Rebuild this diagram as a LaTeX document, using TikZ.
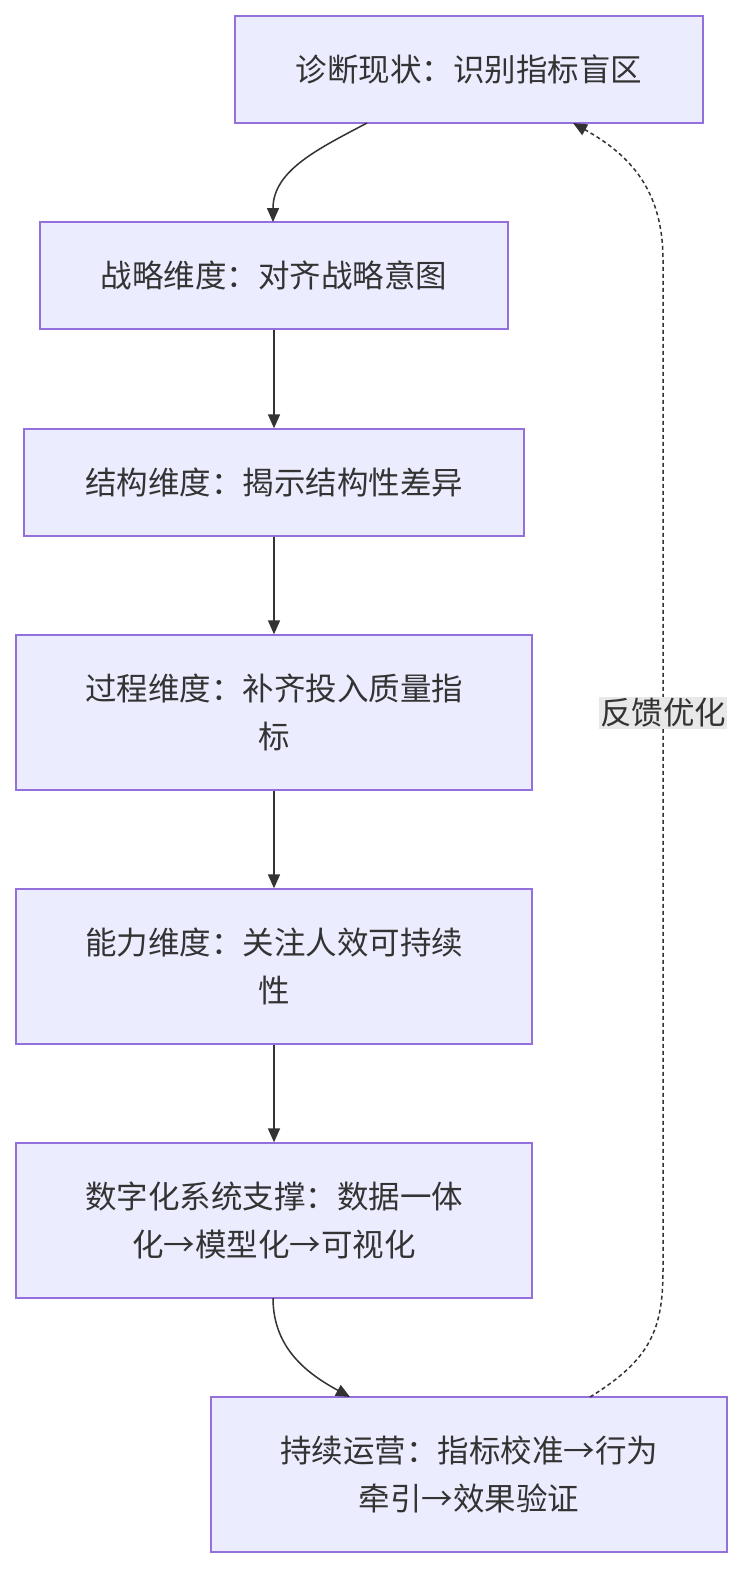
\documentclass[tikz,border=0pt]{standalone}
\usepackage{fontspec}
\setmainfont{Noto Sans CJK SC}
\usetikzlibrary{arrows.meta}
\definecolor{nfill}{HTML}{ECECFF}
\definecolor{nline}{HTML}{9370DB}
\definecolor{ink}{HTML}{333333}
\begin{document}
\begin{tikzpicture}[x=1pt,y=-1pt,
  box/.style={draw=nline,fill=nfill,line width=1.3pt,text=ink,font=\fontsize{31.5}{48}\selectfont,align=center,inner sep=0},
  arr/.style={draw=ink,line width=1.5pt,-{Triangle[length=14pt,width=12pt]}}]
\useasboundingbox (0,0) rectangle (750,1580);
\node[box,minimum width=468pt,minimum height=107pt] (n1) at (469,69.5) {诊断现状：识别指标盲区};
\node[box,minimum width=468pt,minimum height=107pt] (n2) at (274,275.5) {战略维度：对齐战略意图};
\node[box,minimum width=500pt,minimum height=107pt] (n3) at (274,482.5) {结构维度：揭示结构性差异};
\node[box,minimum width=516pt,minimum height=155pt] (n4) at (274,712.5) {过程维度：补齐投入质量指\\标};
\node[box,minimum width=516pt,minimum height=155pt] (n5) at (274,966.5) {能力维度：关注人效可持续\\性};
\node[box,minimum width=516pt,minimum height=155pt] (n6) at (274,1220.5) {数字化系统支撑：数据一体\\化→模型化→可视化};
\node[box,minimum width=516pt,minimum height=155pt] (n7) at (469,1474.5) {持续运营：指标校准→行为\\牵引→效果验证};
\coordinate (a1) at (367,123);
\coordinate (b1) at (273,222);
\draw[arr] (a1) .. controls (320,148) and (273,170) .. (b1);
\draw[arr] (n2) -- (n3);
\draw[arr] (n3) -- (n4);
\draw[arr] (n4) -- (n5);
\draw[arr] (n5) -- (n6);
\coordinate (a6) at (273,1298);
\coordinate (b6) at (350,1397);
\draw[arr] (a6) .. controls (273,1350) and (310,1375) .. (b6);
\coordinate (a7) at (590,1397);
\coordinate (b7) at (573,123);
\draw[arr,dash pattern=on 4pt off 3pt] (a7) .. controls (650,1360) and (663,1330) .. (663,1270) -- (663,260) .. controls (663,190) and (630,155) .. (b7);
\node[fill=black!9,text=ink,font=\fontsize{31.5}{36}\selectfont,inner sep=1pt] (lb) at (663,713) {反馈优化};
\end{tikzpicture}
\end{document}
